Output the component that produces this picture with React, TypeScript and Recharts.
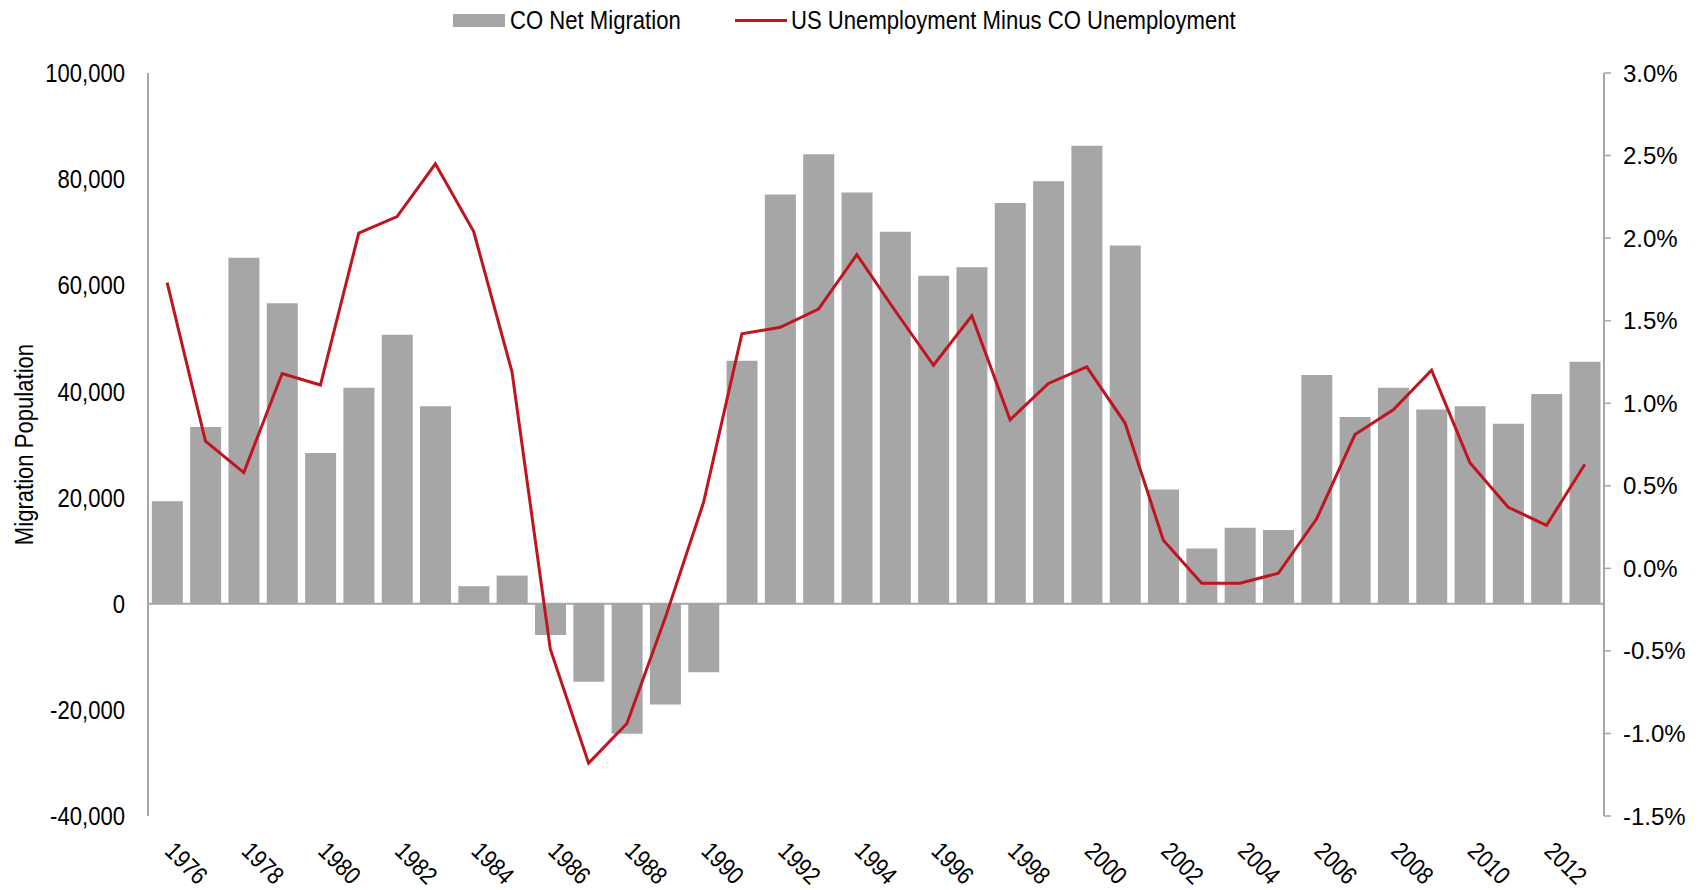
import { ComposedChart, Bar, Line, XAxis, YAxis, ReferenceLine } from "recharts";

const YEARS = [
  1976, 1977, 1978, 1979, 1980, 1981, 1982, 1983, 1984, 1985, 1986, 1987, 1988,
  1989, 1990, 1991, 1992, 1993, 1994, 1995, 1996, 1997, 1998, 1999, 2000, 2001,
  2002, 2003, 2004, 2005, 2006, 2007, 2008, 2009, 2010, 2011, 2012, 2013,
];

// CO net migration (people)
const NET_MIGRATION = [
  19300, 33300, 65200, 56600, 28400, 40700, 50700, 37200, 3300, 5300, -5900,
  -14700, -24500, -19000, -12900, 45800, 77100, 84700, 77500, 70100, 61800,
  63400, 75500, 79600, 86300, 67500, 21500, 10400, 14300, 13900, 43100, 35200,
  40700, 36600, 37200, 33900, 39500, 45600,
];

// US unemployment minus CO unemployment (percentage points)
const UNEMP_GAP = [
  1.73, 0.77, 0.58, 1.18, 1.11, 2.03, 2.13, 2.45, 2.04, 1.19, -0.49, -1.18,
  -0.94, -0.3, 0.4, 1.42, 1.46, 1.57, 1.9, 1.56, 1.23, 1.53, 0.9, 1.12, 1.22,
  0.88, 0.17, -0.09, -0.09, -0.03, 0.3, 0.81, 0.96, 1.2, 0.64, 0.37, 0.26, 0.63,
];

const LEFT_TICKS = [-40000, -20000, 0, 20000, 40000, 60000, 80000, 100000];
const RIGHT_TICKS = [-1.5, -1, -0.5, 0, 0.5, 1, 1.5, 2, 2.5, 3];

const BAR_COLOR = "#a6a6a6";
const LINE_COLOR = "#c0141f";
const AXIS_COLOR = "#a6a6a6";
const FONT = '"Liberation Sans", Arial, sans-serif';
// no narrow face installed: squeeze the regular one horizontally
const SQUEEZE = 0.85;

const data = YEARS.map((year, i) => ({
  year: String(year),
  migration: NET_MIGRATION[i],
  gap: UNEMP_GAP[i],
}));

function ChartLegend() {
  const text = {
    display: "inline-block",
    transform: `scaleX(${SQUEEZE})`,
    transformOrigin: "left center",
    whiteSpace: "nowrap" as const,
  };
  return (
    <div
      style={{
        position: "absolute",
        top: 0,
        left: 453,
        height: 40,
        display: "flex",
        alignItems: "center",
        fontFamily: FONT,
        fontSize: 26,
        color: "#000",
      }}
    >
      <span style={{ width: 52, height: 13, background: BAR_COLOR, marginRight: 5 }} />
      <span style={{ ...text, width: 225 }}>CO Net Migration</span>
      <span style={{ width: 52, height: 3, background: LINE_COLOR, marginRight: 4 }} />
      <span style={text}>US Unemployment Minus CO Unemployment</span>
    </div>
  );
}

function LeftTick(props: any) {
  const { x, y, payload } = props;
  return (
    <g transform={`translate(${x},${y}) scale(${SQUEEZE},1)`}>
      <text x={0} y={0} dy="0.35em" textAnchor="end" fontFamily={FONT} fontSize={26} fill="#000">
        {Number(payload.value).toLocaleString("en-US")}
      </text>
    </g>
  );
}

function XTick(props: any) {
  const { x, y, payload } = props;
  return (
    <g transform={`translate(${x + 9},${y}) rotate(45) scale(${SQUEEZE},1)`}>
      <text x={0} y={0} dy="0.71em" textAnchor="start" fontFamily={FONT} fontSize={25} fill="#000">
        {payload.value}
      </text>
    </g>
  );
}

function YTitle(props: any) {
  const { viewBox } = props;
  const cy = viewBox.y + viewBox.height / 2;
  return (
    <g transform={`translate(24,${cy}) rotate(-90) scale(${SQUEEZE},1)`}>
      <text x={0} y={0} dy="0.35em" textAnchor="middle" fontFamily={FONT} fontSize={26} fill="#000">
        Migration Population
      </text>
    </g>
  );
}

export default function App() {
  return (
    <div style={{ position: "absolute", left: 0, top: 0, width: 1700, height: 890, background: "#fff" }}>
      <ComposedChart
        width={1700}
        height={890}
        data={data}
        margin={{ top: 73, right: 0, bottom: 0, left: 0 }}
        barCategoryGap="10%"
      >
        <XAxis
          dataKey="year"
          interval={1}
          axisLine={false}
          tickLine={false}
          tickSize={0}
          tickMargin={24}
          height={74}
          tick={<XTick />}
        />
        <YAxis
          yAxisId="left"
          orientation="left"
          width={148}
          domain={[-40000, 100000]}
          ticks={LEFT_TICKS}
          axisLine={{ stroke: AXIS_COLOR, strokeWidth: 2 }}
          tickLine={false}
          tickSize={0}
          tickMargin={23}
          tick={<LeftTick />}
          label={<YTitle />}
        />
        <YAxis
          yAxisId="right"
          orientation="right"
          width={96}
          domain={[-1.5, 3]}
          ticks={RIGHT_TICKS}
          tickFormatter={(v: number) => `${v.toFixed(1)}%`}
          axisLine={{ stroke: AXIS_COLOR, strokeWidth: 2 }}
          tickLine={{ stroke: AXIS_COLOR, strokeWidth: 1.5 }}
          tickSize={7}
          tickMargin={12}
          tick={{ fontFamily: FONT, fontSize: 24, fill: "#000", textAnchor: "start" }}
        />
        <ReferenceLine yAxisId="left" y={0} stroke={AXIS_COLOR} strokeWidth={2} />
        <Bar yAxisId="left" dataKey="migration" fill={BAR_COLOR} isAnimationActive={false} />
        <Line
          yAxisId="right"
          dataKey="gap"
          stroke={LINE_COLOR}
          strokeWidth={3}
          dot={false}
          type="linear"
          isAnimationActive={false}
        />
      </ComposedChart>
      <ChartLegend />
    </div>
  );
}
